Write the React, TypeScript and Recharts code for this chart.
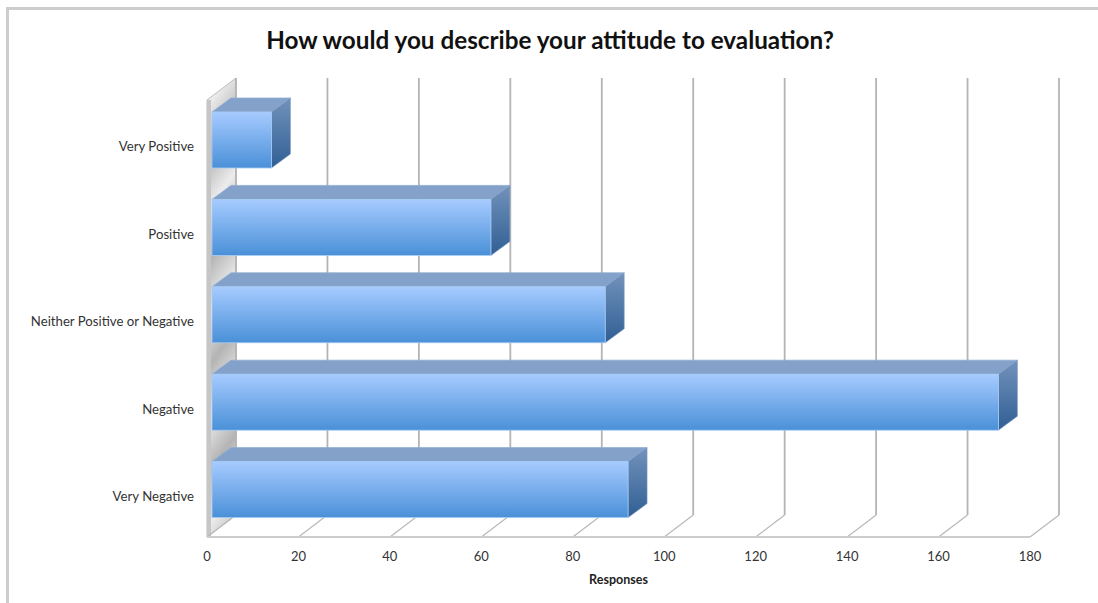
import React from "react";
import { BarChart, Bar, XAxis, YAxis, CartesianGrid } from "recharts";

const categories = ["Very Positive", "Positive", "Neither Positive or Negative", "Negative", "Very Negative"];
const responses = [13, 61, 86, 172, 91];
const valueTicks = [0, 20, 40, 60, 80, 100, 120, 140, 160, 180];

const data = categories.map((name, i) => ({ name, responses: responses[i] }));

// depth of the fake 3D box: back wall offset and bar offset
const WALL_DX = 29;
const WALL_DY = -22;
const BAR_DX = 19;
const BAR_DY = -14;
const BAR_SHIFT_X = 5;
const BAR_SHIFT_Y = -4;

function GridLine3D(props: any) {
    const { x1, y1, y2, index } = props;
    return (
        <g>
            {index === 0 && (
                <>
                    <polygon
                        points={`${x1},${y1} ${x1 + WALL_DX},${y1 + WALL_DY} ${x1 + WALL_DX},${y2 + WALL_DY} ${x1},${y2}`}
                        fill="url(#wallGradient)"
                        stroke="#bcbcbc"
                        strokeWidth={1}
                    />
                    <rect x={x1} y={y1} width={4} height={y2 - y1} fill="#c6c6c6" />
                </>
            )}
            <line x1={x1 + WALL_DX} y1={y1 + WALL_DY} x2={x1 + WALL_DX} y2={y2 + WALL_DY} stroke="#b4b4b4" strokeWidth={1.8} />
            <line x1={x1} y1={y2} x2={x1 + WALL_DX} y2={y2 + WALL_DY} stroke="#b8b8b8" strokeWidth={1.2} />
        </g>
    );
}

function Box3D(props: any) {
    const { width, height } = props;
    const x = props.x + BAR_SHIFT_X;
    const y = props.y + BAR_SHIFT_Y;
    const right = x + width;
    const bottom = y + height;
    return (
        <g>
            <polygon
                points={`${x},${y} ${x + BAR_DX},${y + BAR_DY} ${right + BAR_DX},${y + BAR_DY} ${right},${y}`}
                fill="#84a1c9"
                stroke="#8fadd4"
                strokeWidth={0.8}
            />
            <polygon
                points={`${right},${y} ${right + BAR_DX},${y + BAR_DY} ${right + BAR_DX},${bottom + BAR_DY} ${right},${bottom}`}
                fill="url(#barSide)"
                stroke="#7f9cc4"
                strokeWidth={0.6}
            />
            <rect x={x} y={y} width={width} height={height} fill="url(#barFront)" stroke="#a6cdf5" strokeWidth={0.8} />
        </g>
    );
}

export default function App() {
    return (
        <div style={{ position: "absolute", left: 0, top: 0, width: 1098, height: 603, background: "#fff", overflow: "hidden", fontFamily: "Lato" }}>
            <div style={{ position: "absolute", left: 6, top: 7, width: 1092, height: 596, borderLeft: "3px solid #cdcdcd", borderTop: "3px solid #cdcdcd", boxSizing: "border-box" }} />
            <div style={{ position: "absolute", left: 0, top: 25, width: 1100, textAlign: "center", fontSize: 24.25, fontWeight: 700, color: "#111" }}>
                How would you describe your attitude to evaluation?
            </div>
            <BarChart
                width={1098}
                height={603}
                data={data}
                layout="vertical"
                margin={{ top: 100, right: 68, bottom: 0, left: 0 }}
                style={{ position: "absolute", left: 0, top: 0 }}
            >
                <defs>
                    <linearGradient id="barFront" x1="0" y1="0" x2="0" y2="1">
                        <stop offset="0%" stopColor="#a6cbff" />
                        <stop offset="100%" stopColor="#4a90d8" />
                    </linearGradient>
                    <linearGradient id="barSide" x1="0" y1="0" x2="0" y2="1">
                        <stop offset="0%" stopColor="#7292bb" />
                        <stop offset="100%" stopColor="#305f94" />
                    </linearGradient>
                    <linearGradient id="wallGradient" gradientUnits="userSpaceOnUse" x1="211" y1="100" x2="236" y2="118" spreadMethod="reflect">
                        <stop offset="0%" stopColor="#ececec" />
                        <stop offset="100%" stopColor="#b4b4b4" />
                    </linearGradient>
                </defs>
                <CartesianGrid horizontal={false} vertical={GridLine3D as any} />
                <XAxis
                    type="number"
                    domain={[0, 180]}
                    ticks={valueTicks}
                    interval={0}
                    height={66}
                    tickLine={false}
                    axisLine={{ stroke: "#cccccc", strokeWidth: 2 }}
                    tick={{ fill: "#333", fontSize: 13, fontFamily: "Lato" }}
                    tickMargin={9}
                    label={{ value: "Responses", position: "insideBottom", offset: 19, style: { fontSize: 12.5, fontWeight: 700, fill: "#222", fontFamily: "Lato" } }}
                />
                <YAxis
                    type="category"
                    dataKey="name"
                    width={207}
                    interval={0}
                    tickLine={false}
                    axisLine={false}
                    tickMargin={7}
                    tick={{ fill: "#333", fontSize: 13.2, fontFamily: "Lato", dy: 3 }}
                />
                <Bar dataKey="responses" barSize={56} shape={Box3D} isAnimationActive={false} />
            </BarChart>
        </div>
    );
}
